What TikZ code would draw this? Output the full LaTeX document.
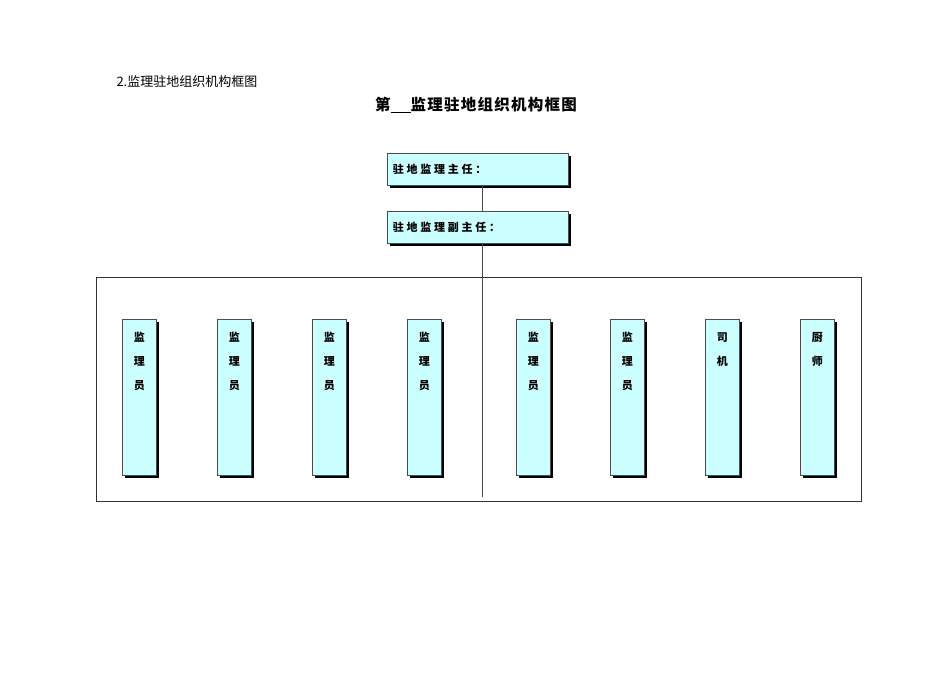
\documentclass[tikz,border=0pt]{standalone}
\usepackage{fontspec}
\newfontfamily\cjk{Noto Sans CJK SC}
\newfontfamily\cjksp[LetterSpace=25]{Noto Sans CJK SC}
\newfontfamily\cjkt[LetterSpace=8]{Noto Sans CJK SC}
\usetikzlibrary{shadows}
\definecolor{boxc}{HTML}{CCFFFF}
\begin{document}
\begin{tikzpicture}[x=1pt,y=-1pt,
  boxbase/.style={draw=black!70,fill=boxc,line width=0.6pt,inner sep=0pt,
    drop shadow={shadow xshift=3pt,shadow yshift=-3pt,fill=black,opacity=1}},
  topbox/.style={boxbase,minimum width=181pt,minimum height=32pt,anchor=north west,
    font=\cjksp\fontsize{11}{12}\selectfont\bfseries,text width=170pt,align=left},
  colbox/.style={boxbase,minimum width=34pt,minimum height=156pt,anchor=north west},
  coltext/.style={font=\cjk\fontsize{11}{24}\selectfont\bfseries,align=center,anchor=north},
  conn/.style={draw=black!70,line width=0.6pt}]
\useasboundingbox (0,0) rectangle (950,672);
\node[font=\cjk\fontsize{13}{14}\selectfont,anchor=west] (t1) at (113,82) {2.监理驻地组织机构框图};
\node[font=\cjkt\fontsize{15.5}{16}\selectfont\bfseries] (t2) at (476,105) {第\rule[-1.5pt]{20pt}{0.6pt}监理驻地组织机构框图};
\node[draw=black!80,line width=0.6pt,minimum width=765pt,minimum height=224pt,anchor=north west,inner sep=0pt] (frame) at (96,277) {};
\node[topbox] (a) at (387,153) {驻地监理主任：};
\node[topbox] (b) at (387,211) {驻地监理副主任：};
\coordinate (bot) at (482,497);
\draw[conn] (a.south -| bot) -- (b.north -| bot);
\draw[conn] (b.south -| bot) -- (bot);
\foreach \x/\t [count=\i] in {122/监\\理\\员,217/监\\理\\员,312/监\\理\\员,407/监\\理\\员,516/监\\理\\员,610/监\\理\\员,705/司\\机,800/厨\\师}{
  \node[colbox] (c\i) at (\x,319) {};
  \node[coltext] (ct\i) at ([yshift=-10pt]c\i.north) {\t};
}
\end{tikzpicture}
\end{document}
